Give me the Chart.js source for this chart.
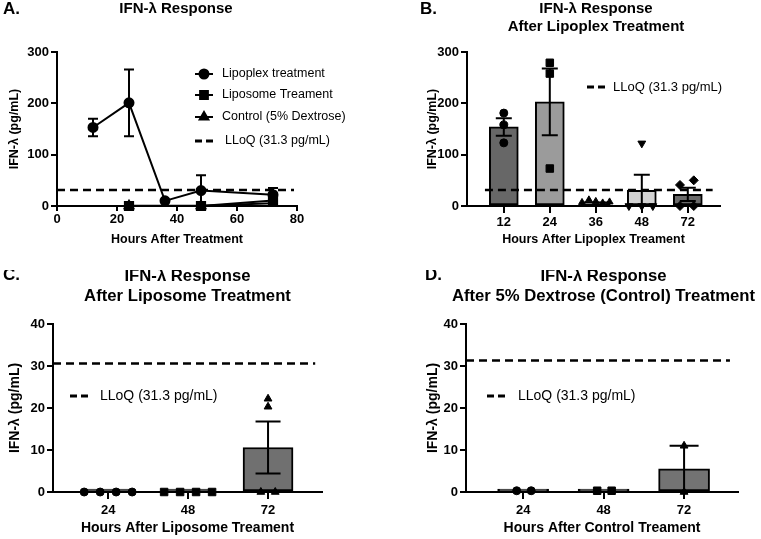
<!DOCTYPE html>
<html>
<head>
<meta charset="utf-8">
<script src="https://cdn.jsdelivr.net/npm/chart.js@4.4.1/dist/chart.umd.min.js"></script>
<style>
body { margin: 0; background: #fff; width: 761px; height: 539px; position: relative; overflow: hidden; }
canvas { position: absolute; }
</style>
</head>
<body>
<canvas id="chartA" width="380" height="270" style="left:0;top:0"></canvas>
<canvas id="chartB" width="381" height="270" style="left:380px;top:0"></canvas>
<canvas id="chartC" width="380" height="269" style="left:0;top:270px"></canvas>
<canvas id="chartD" width="381" height="269" style="left:380px;top:270px"></canvas>
<script>
//<------------------ data ------------------>
const lloq = 31.3;

// A. time course (means +/- SEM)
const aLipoplexHours = [12, 24, 36, 48, 72];
const aLipoplex = [153, 201, 10, 30, 22];
const aLipoplexSem = [17, 65, 0, 30, 13];
const aLiposomeHours = [24, 48, 72];
const aLiposome = [0, 0, 10.6];
const aLiposomeSem = [0, 0, 6.2];
const aControlHours = [24, 48, 72];
const aControl = [0.3, 0.3, 5.5];
const aControlSem = [0, 0, 5.5];

// B. lipoplex
const bHours = ['12', '24', '36', '48', '72'];
const bMeans = [154, 203, 8.4, 30.5, 22.5];
const bSem = [17, 65, 0, 30.5, 13];
const bPoints = [[181, 158, 123], [279, 258, 73], [7, 12, 9, 6, 8], [122, 0, 0, 0], [41, 50, 0, 0]];

// C. liposome
const cHours = ['24', '48', '72'];
const cMeans = [0, 0, 10.6];
const cSem = [0, 0, 6.2];
const cPoints = [[0, 0, 0, 0], [0, 0, 0, 0], [22.2, 20.3, 0, 0]];
const cLloqDrawn = 30.6;

// D. 5% dextrose control
const dHours = ['24', '48', '72'];
const dMeans = [0.3, 0.3, 5.5];
const dSem = [0, 0, 5.5];
const dPoints = [[0.3, 0.3], [0.3, 0.3], [11, 0]];

// horizontal spread of the dots inside each bar (scale units)
const bJitter = [[0, 0, 0], [0, 0, 0], [-0.3, -0.15, 0, 0.15, 0.3], [0, -0.28, 0, 0.24], [-0.17, 0.13, -0.17, 0.13]];
const cJitter = [[-0.3, -0.1, 0.1, 0.3], [-0.3, -0.1, 0.1, 0.3], [0, 0, -0.09, 0.09]];
const dJitter = [[-0.08, 0.1], [-0.08, 0.1], [0, 0]];

const FONT = '"Liberation Sans", Arial, sans-serif';
Chart.defaults.font.family = FONT;
Chart.defaults.color = '#000';

//<------------------ plugins ------------------>
// SEM whiskers, drawn right after the dataset that carries them
const errorBars = {
  id: 'errorBars',
  afterDatasetDraw(chart, args) {
    const ds = chart.data.datasets[args.index];
    if (!ds.errors) return;
    const ctx = chart.ctx, xs = chart.scales.x, ys = chart.scales.y;
    const w = ds.capWidth / 2;
    ctx.save();
    ctx.strokeStyle = '#000';
    ctx.lineWidth = 2;
    ds.data.forEach(function (pt, i) {
      const e = ds.errors[i];
      if (!e) return;
      const px = xs.getPixelForValue(pt.x);
      const lo = ys.getPixelForValue(Math.max(0, pt.y - e));
      const hi = ys.getPixelForValue(pt.y + e);
      ctx.beginPath();
      ctx.moveTo(px, lo); ctx.lineTo(px, hi);
      ctx.moveTo(px - w, hi); ctx.lineTo(px + w, hi);
      ctx.moveTo(px - w, lo); ctx.lineTo(px + w, lo);
      ctx.stroke();
    });
    ctx.restore();
  }
};

// panel letters, titles and the little in-plot legends
const decor = {
  id: 'decor',
  afterDraw(chart, args, opts) {
    const ctx = chart.ctx;
    ctx.save();
    ctx.fillStyle = '#000';
    ctx.strokeStyle = '#000';
    ctx.textBaseline = 'middle';
    (opts.texts || []).forEach(function (t) {
      ctx.font = t.font;
      ctx.textAlign = t.align || 'center';
      ctx.fillText(t.text, t.x, t.y);
    });
    (opts.legend || []).forEach(function (it) {
      ctx.beginPath();
      if (it.dash) {
        ctx.lineWidth = 3;
        ctx.setLineDash([7, 4]);
      } else {
        ctx.lineWidth = 2;
        ctx.setLineDash([]);
      }
      ctx.moveTo(it.x, it.y);
      ctx.lineTo(it.x + 18, it.y);
      ctx.stroke();
      ctx.setLineDash([]);
      if (it.style) {
        Chart.helpers.drawPoint(ctx, {pointStyle: it.style, radius: it.radius || 4.5, rotation: 0, borderWidth: 1}, it.x + 9, it.y);
      }
      ctx.font = opts.legendFont;
      ctx.textAlign = 'left';
      ctx.fillText(it.label, it.textX, it.y);
    });
    ctx.restore();
  }
};

//<------------------ shared axis setup ------------------>
function panelOptions(p) {
  return {
    responsive: false,
    animation: false,
    devicePixelRatio: 1,
    layout: {padding: {left: 0, top: p.area.top, right: p.W - p.area.right, bottom: 0}},
    plugins: {
      legend: {display: false},
      title: {display: false},
      tooltip: {enabled: false},
      decor: {texts: p.texts, legend: p.legend, legendFont: p.legendFont}
    },
    scales: {
      x: {
        type: 'linear',
        min: p.xMin, max: p.xMax,
        offset: false,
        grid: {display: true, offset: false, drawOnChartArea: false, color: '#000', lineWidth: 2, tickLength: p.xTickLen},
        border: {color: '#000', width: 2},
        ticks: Object.assign({color: '#000', font: {size: 13, weight: 'bold'}, padding: p.xTickPad, autoSkip: false, maxRotation: 0}, p.xTicks),
        afterBuildTicks: p.xAfterBuild,
        title: {display: true, text: p.xTitle, color: '#000', font: {size: p.xTitleSize, weight: 'bold'},
                padding: {top: 0, bottom: p.H - p.xTitleY - p.xTitleSize * 0.6}},
        afterFit: function (s) { s.height = p.H - p.area.bottom; }
      },
      y: {
        min: 0, max: p.yMax,
        grid: {display: true, drawOnChartArea: false, color: '#000', lineWidth: 2, tickLength: 6},
        border: {color: '#000', width: 2},
        ticks: {stepSize: p.yStep, color: '#000', font: {size: 13, weight: 'bold'}, padding: 2},
        title: {display: true, text: 'IFN-λ (pg/mL)', color: '#000', font: {size: p.yTitleSize, weight: 'bold'},
                padding: {top: p.yTitleX - p.yTitleSize * 0.6, bottom: 0}},
        afterFit: function (s) { s.width = p.area.left; }
      }
    }
  };
}

function categoryTicks(labels) {
  return {
    after: function (s) { s.ticks = labels.map(function (_, i) { return {value: i}; }); },
    ticks: {callback: function (v, i) { return labels[i]; }}
  };
}

// bars + whiskers, LLoQ line, then the single animals on top
function barDatasets(hours, means, sem, points, jitter, colors, barW, capW, styles, lloqFrom, lloqTo, lloqValue) {
  const sets = [{
    type: 'bar',
    data: hours.map(function (_, i) { return {x: i, y: means[i]}; }),
    backgroundColor: colors,
    borderColor: '#000',
    borderWidth: 2,
    borderSkipped: false,
    barThickness: barW,
    minBarLength: 3,
    errors: sem,
    capWidth: capW,
    order: 3
  }, {
    type: 'line',
    data: [{x: lloqFrom, y: lloqValue}, {x: lloqTo, y: lloqValue}],
    borderColor: '#000',
    borderWidth: 2.5,
    borderDash: [8, 5],
    pointRadius: 0,
    order: 2
  }];
  points.forEach(function (group, g) {
    sets.push({
      type: 'scatter',
      data: group.map(function (v, k) { return {x: g + jitter[g][k], y: v}; }),
      pointStyle: styles[g].style,
      rotation: styles[g].rotation || 0,
      pointRadius: styles[g].radius || 4,
      backgroundColor: '#000',
      borderColor: '#000',
      borderWidth: 1,
      clip: false,
      order: 1
    });
  });
  return sets;
}

const titleFont = 'bold 15px ' + FONT;
const bigTitleFont = 'bold 16.7px ' + FONT;
const letterFont = 'bold 17px ' + FONT;
const dotStyles = [{style: 'circle', radius: 4}, {style: 'rect', radius: 5.3}, {style: 'triangle', radius: 4.5}];

//<------------------ A. time course ------------------>
const pA = {
  W: 380, H: 270, area: {left: 57, top: 52, right: 297, bottom: 206},
  xMin: 0, xMax: 80, xTicks: {stepSize: 20}, xTickLen: 5, xTickPad: 1,
  xTitle: 'Hours After Treatment', xTitleSize: 12.5, xTitleY: 240,
  yMax: 300, yStep: 100, yTitleX: 15, yTitleSize: 12.5,
  texts: [
    {text: 'A.', x: 3, y: 9, font: letterFont, align: 'left'},
    {text: 'IFN-λ Response', x: 176, y: 9, font: titleFont}
  ],
  legendFont: '12.5px ' + FONT,
  legend: [
    {label: 'Lipoplex treatment', x: 195, y: 74, textX: 222, style: 'circle', radius: 4.5},
    {label: 'Liposome Treament', x: 195, y: 95, textX: 222, style: 'rect', radius: 5.5},
    {label: 'Control (5% Dextrose)', x: 195, y: 117, textX: 222, style: 'triangle', radius: 5},
    {label: 'LLoQ (31.3 pg/mL)', x: 195, y: 141, textX: 225, dash: true}
  ]
};

function lineSet(hours, values, sem, style, radius) {
  return {
    data: hours.map(function (h, i) { return {x: h, y: values[i]}; }),
    borderColor: '#000', borderWidth: 2,
    pointStyle: style, pointRadius: radius,
    pointBackgroundColor: '#000', pointBorderColor: '#000',
    clip: false,
    errors: sem, capWidth: 10
  };
}

new Chart(document.getElementById('chartA'), {
  type: 'line',
  data: {
    datasets: [
      lineSet(aLipoplexHours, aLipoplex, aLipoplexSem, 'circle', 4.5),
      lineSet(aLiposomeHours, aLiposome, aLiposomeSem, 'rect', 5.8),
      lineSet(aControlHours, aControl, aControlSem, 'triangle', 5),
      {data: [{x: 0, y: lloq}, {x: 79, y: lloq}], borderColor: '#000', borderWidth: 2.5, borderDash: [8, 5], pointRadius: 0}
    ]
  },
  options: panelOptions(pA),
  plugins: [errorBars, decor]
});

//<------------------ B. lipoplex ------------------>
const bTicks = categoryTicks(bHours);
const pB = {
  W: 381, H: 270, area: {left: 87, top: 52, right: 340, bottom: 206},
  xMin: -0.8, xMax: 4.7, xTicks: bTicks.ticks, xAfterBuild: bTicks.after, xTickLen: 7, xTickPad: 2,
  xTitle: 'Hours After Lipoplex Treament', xTitleSize: 12.5, xTitleY: 240,
  yMax: 300, yStep: 100, yTitleX: 53, yTitleSize: 12.5,
  texts: [
    {text: 'B.', x: 40, y: 9, font: letterFont, align: 'left'},
    {text: 'IFN-λ Response', x: 216, y: 9, font: titleFont},
    {text: 'After Lipoplex Treatment', x: 216, y: 26.5, font: titleFont}
  ],
  legendFont: '13px ' + FONT,
  legend: [{label: 'LLoQ (31.3 pg/mL)', x: 207, y: 87, textX: 233, dash: true}]
};

new Chart(document.getElementById('chartB'), {
  type: 'bar',
  data: {
    datasets: barDatasets(bHours, bMeans, bSem, bPoints, bJitter,
      ['#676767', '#9b9b9b', '#5c5c5c', '#d3d3d3', '#6a6a6a'], 29, 16,
      [{style: 'circle'}, {style: 'rect', radius: 5.3}, {style: 'triangle', radius: 4}, {style: 'triangle', radius: 4.5, rotation: 180}, {style: 'rectRot', radius: 4.5}],
      -0.41, 4.54, lloq)
  },
  options: panelOptions(pB),
  plugins: [errorBars, decor]
});

//<------------------ C. liposome ------------------>
const cTicks = categoryTicks(cHours);
const pC = {
  W: 380, H: 269, area: {left: 53, top: 54, right: 322, bottom: 222},
  xMin: -0.69, xMax: 2.675, xTicks: cTicks.ticks, xAfterBuild: cTicks.after, xTickLen: 7, xTickPad: 4,
  xTitle: 'Hours After Liposome Treament', xTitleSize: 14, xTitleY: 258,
  yMax: 40, yStep: 10, yTitleX: 15, yTitleSize: 14,
  texts: [
    {text: 'C.', x: 3, y: 5, font: letterFont, align: 'left'},
    {text: 'IFN-λ Response', x: 187.5, y: 6, font: bigTitleFont},
    {text: 'After Liposome Treatment', x: 187.5, y: 26, font: bigTitleFont}
  ],
  legendFont: '14px ' + FONT,
  legend: [{label: 'LLoQ (31.3 pg/mL)', x: 70, y: 126, textX: 100, dash: true}]
};

new Chart(document.getElementById('chartC'), {
  type: 'bar',
  data: {
    datasets: barDatasets(cHours, cMeans, cSem, cPoints, cJitter,
      ['#707070', '#707070', '#707070'], 50, 25, dotStyles,
      -0.69, 2.59, cLloqDrawn)
  },
  options: panelOptions(pC),
  plugins: [errorBars, decor]
});

//<------------------ D. 5% dextrose ------------------>
const dTicks = categoryTicks(dHours);
const pD = {
  W: 381, H: 269, area: {left: 86, top: 54, right: 358, bottom: 222},
  xMin: -0.71, xMax: 2.67, xTicks: dTicks.ticks, xAfterBuild: dTicks.after, xTickLen: 7, xTickPad: 4,
  xTitle: 'Hours After Control Treament', xTitleSize: 14, xTitleY: 258,
  yMax: 40, yStep: 10, yTitleX: 53, yTitleSize: 14,
  texts: [
    {text: 'D.', x: 45, y: 5, font: letterFont, align: 'left'},
    {text: 'IFN-λ Response', x: 223.5, y: 6, font: bigTitleFont},
    {text: 'After 5% Dextrose (Control) Treatment', x: 223.5, y: 26, font: bigTitleFont}
  ],
  legendFont: '14px ' + FONT,
  legend: [{label: 'LLoQ (31.3 pg/mL)', x: 107, y: 126, textX: 138, dash: true}]
};

new Chart(document.getElementById('chartD'), {
  type: 'bar',
  data: {
    datasets: barDatasets(dHours, dMeans, dSem, dPoints, dJitter,
      ['#737373', '#737373', '#737373'], 51, 29, dotStyles,
      -0.71, 2.57, lloq)
  },
  options: panelOptions(pD),
  plugins: [errorBars, decor]
});
</script>
</body>
</html>
